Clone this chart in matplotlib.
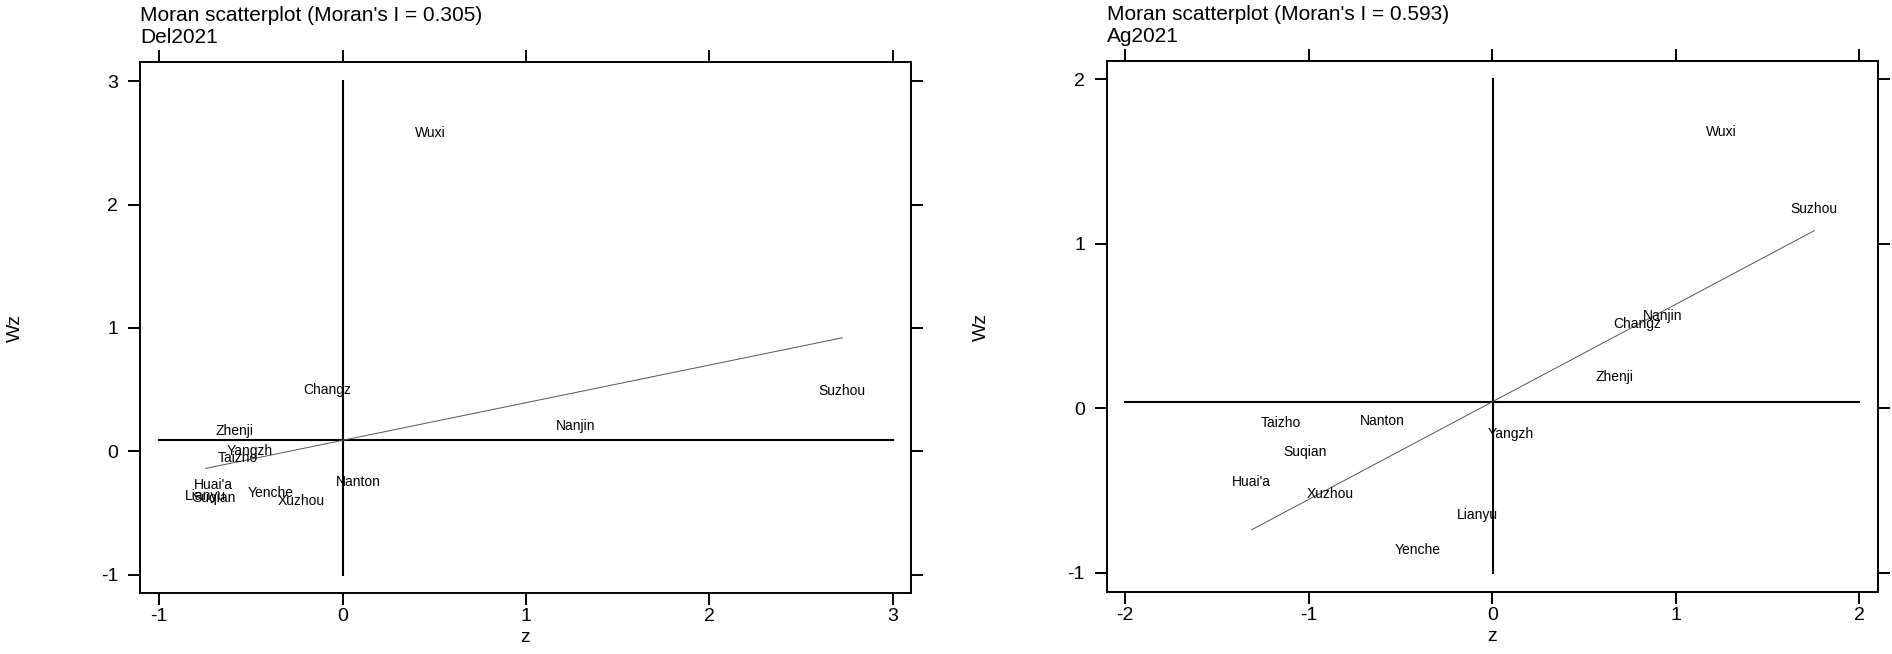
import matplotlib
matplotlib.use("Agg")
import matplotlib.pyplot as plt
import numpy as np

plt.rcParams['font.family'] = ['Liberation Sans', 'DejaVu Sans']
plt.rcParams['axes.unicode_minus'] = False

cities_del = ["Wuxi", "Changz", "Suzhou", "Nanjin", "Zhenji", "Yangzh", "Taizho",
              "Huai'a", "Lianyu", "Suqian", "Yenche", "Xuzhou", "Nanton"]
z_del = [0.477, -0.082, 2.725, 1.272, -0.588, -0.506, -0.572,
         -0.707, -0.746, -0.703, -0.394, -0.227, 0.085]
wz_del = [2.526, 0.442, 0.435, 0.151, 0.108, -0.051, -0.108,
          -0.332, -0.419, -0.433, -0.392, -0.457, -0.301]
moran_del = 0.305

cities_ag = ["Wuxi", "Suzhou", "Nanjin", "Changz", "Zhenji", "Taizho", "Nanton",
             "Yangzh", "Suqian", "Huai'a", "Xuzhou", "Lianyu", "Yenche"]
z_ag = [1.246, 1.755, 0.930, 0.789, 0.667, -1.150, -0.598,
        0.099, -1.022, -1.311, -0.884, -0.082, -0.404]
wz_ag = [1.639, 1.166, 0.516, 0.471, 0.147, -0.134, -0.121,
         -0.200, -0.309, -0.491, -0.564, -0.693, -0.903]
moran_ag = 0.593

xticks_del = [-1, 0, 1, 2, 3]
yticks_del = [-1, 0, 1, 2, 3]
xticks_ag = [-2, -1, 0, 1, 2]
yticks_ag = [-1, 0, 1, 2]


def moran_panel(ax, names, z, wz, moran_i, var, xticks, yticks, xlim, ylim):
    z = np.array(z)
    wz = np.array(wz)
    zm, wm = z.mean(), wz.mean()
    # mean lines
    ax.plot([xticks[0], xticks[-1]], [wm, wm], color='black', lw=1.5)
    ax.plot([zm, zm], [yticks[0], yticks[-1]], color='black', lw=1.5)
    # fitted line, slope = Moran's I
    xs = np.array([z.min(), z.max()])
    ax.plot(xs, wm + moran_i * (xs - zm), color='#555555', lw=0.7)
    for n, a, b in zip(names, z, wz):
        ax.annotate(n, (a, b), xytext=(0, 5), textcoords='offset points',
                    ha='center', va='center', fontsize=10)
    ax.set_xlim(*xlim)
    ax.set_ylim(*ylim)
    ax.set_xticks(xticks)
    ax.set_yticks(yticks)
    ax.tick_params(direction='out', length=8.6, width=1.4, labelsize=14,
                   top=True, right=True, labeltop=False, labelright=False)
    ax.tick_params(axis='x', pad=2)
    ax.tick_params(axis='y', pad=7)
    for s in ax.spines.values():
        s.set_linewidth(1.4)
    ax.set_xlabel("z", fontsize=14, labelpad=3)
    ax.set_ylabel("Wz", fontsize=14)
    ax.yaxis.set_label_coords(-0.151, 0.5)
    ax.annotate("Moran scatterplot (Moran's I = %.3f)" % moran_i, (0, 1),
                xycoords='axes fraction', xytext=(0, 29.5),
                textcoords='offset points', ha='left', va='baseline', fontsize=15)
    ax.annotate(var, (0, 1), xycoords='axes fraction', xytext=(0, 13.7),
                textcoords='offset points', ha='left', va='baseline', fontsize=15)


fig = plt.figure(figsize=(18.92, 6.54), dpi=100)
ax1 = fig.add_axes([0.0740, 0.0928, 0.4075, 0.8124])
ax2 = fig.add_axes([0.5849, 0.0943, 0.4077, 0.8120])

moran_panel(ax1, cities_del, z_del, wz_del, moran_del, "Del2021",
            xticks_del, yticks_del, (-1.105, 3.10), (-1.151, 3.156))
moran_panel(ax2, cities_ag, z_ag, wz_ag, moran_ag, "Ag2021",
            xticks_ag, yticks_ag, (-2.101, 2.102), (-1.119, 2.109))

fig.savefig("out.png", dpi=100)
